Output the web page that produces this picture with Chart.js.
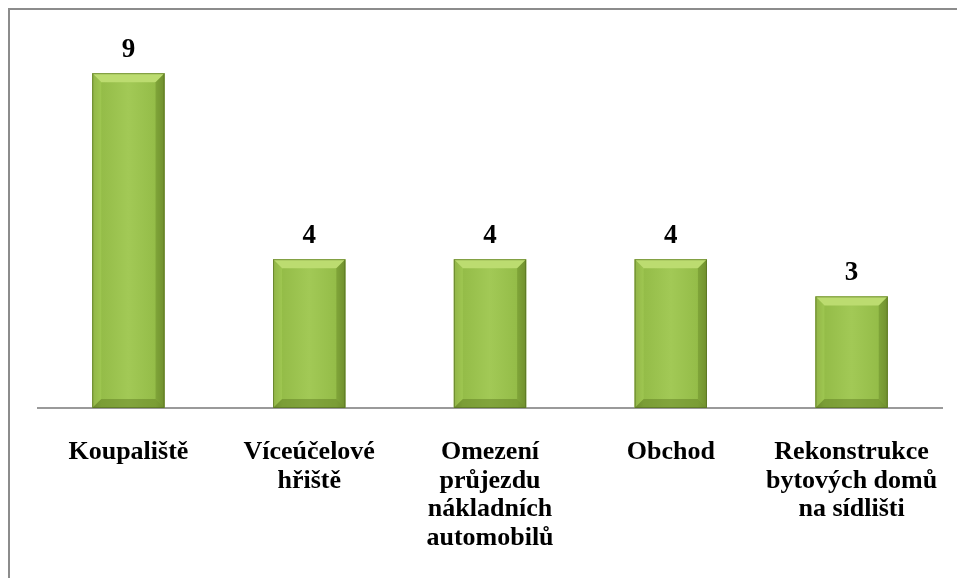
<!DOCTYPE html>
<html>
<head>
<meta charset="utf-8">
<script src="https://cdn.jsdelivr.net/npm/chart.js@4.4.1/dist/chart.umd.min.js"></script>
<style>
	body { margin: 0; background: #fff; }
	#wrap { position: absolute; left: 0; top: 0; width: 957px; height: 578px; overflow: hidden; }
	#frame { position: absolute; left: 8px; top: 8px; width: 1200px; height: 1200px; border: 2px solid #8c8c8c; }
	#chart_canvas { position: absolute; left: 0; top: 0; }
</style>
</head>
<body>
<div id="wrap">
	<div id="frame"></div>
	<canvas id="chart_canvas" width="957" height="578"></canvas>
</div>
<script>
var categories = [
	["Koupaliště"],
	["Víceúčelové", "hřiště"],
	["Omezení", "průjezdu", "nákladních", "automobilů"],
	["Obchod"],
	["Rekonstrukce", "bytových domů", "na sídlišti"]
];
var counts = [9, 4, 4, 4, 3];

// shaded bevelled bars + value labels on top
var bevelBars = {
	id: 'bevelBars',
	afterDatasetsDraw: function(chart){
		var ctx = chart.ctx;
		var meta = chart.getDatasetMeta(0);
		meta.data.forEach(function(bar, i){
			var l = bar.x - bar.width / 2, r = bar.x + bar.width / 2;
			var t = bar.y, b = bar.base, bv = 9;
			ctx.save();
			var g = ctx.createLinearGradient(l, 0, r, 0);
			g.addColorStop(0, '#7d9c38');
			g.addColorStop(0.12, '#94bc48');
			g.addColorStop(0.5, '#a2c956');
			g.addColorStop(0.88, '#94bc48');
			g.addColorStop(1, '#7d9c38');
			ctx.fillStyle = g;
			ctx.fillRect(l, t, r - l, b - t);
			// top bevel
			ctx.fillStyle = '#bcdc70';
			ctx.beginPath();
			ctx.moveTo(l, t); ctx.lineTo(r, t); ctx.lineTo(r - bv, t + bv); ctx.lineTo(l + bv, t + bv); ctx.closePath();
			ctx.fill();
			// left bevel
			ctx.fillStyle = 'rgba(170,210,90,0.45)';
			ctx.beginPath();
			ctx.moveTo(l, t); ctx.lineTo(l + bv, t + bv); ctx.lineTo(l + bv, b - bv); ctx.lineTo(l, b); ctx.closePath();
			ctx.fill();
			// right bevel
			ctx.fillStyle = 'rgba(90,120,30,0.35)';
			ctx.beginPath();
			ctx.moveTo(r, t); ctx.lineTo(r - bv, t + bv); ctx.lineTo(r - bv, b - bv); ctx.lineTo(r, b); ctx.closePath();
			ctx.fill();
			// bottom bevel
			ctx.fillStyle = 'rgba(90,120,30,0.45)';
			ctx.beginPath();
			ctx.moveTo(l, b); ctx.lineTo(l + bv, b - bv); ctx.lineTo(r - bv, b - bv); ctx.lineTo(r, b); ctx.closePath();
			ctx.fill();
			ctx.strokeStyle = 'rgba(80,105,30,0.6)';
			ctx.lineWidth = 1;
			ctx.strokeRect(l + 0.5, t + 0.5, r - l - 1, b - t - 1);

			ctx.fillStyle = '#000';
			ctx.font = 'bold 27px "Liberation Serif"';
			ctx.textAlign = 'center';
			ctx.textBaseline = 'alphabetic';
			ctx.fillText(counts[i], bar.x, t - 16);
			ctx.restore();
		});
	}
};

var chart = new Chart(document.getElementById("chart_canvas"), {
	type: 'bar',
	data: {
		labels: categories,
		datasets: [
			{
				label: "Počet",
				backgroundColor: "#9cc44e",
				data: counts,
				barPercentage: 0.8,
				categoryPercentage: 0.5
			}
		]
	},
	options: {
		responsive: false,
		animation: false,
		layout: { padding: { left: 38, right: 15, top: 36, bottom: 0 } },
		plugins: { legend: { display: false }, tooltip: { enabled: false } },
		scales: {
			x: {
				grid: { display: false, drawTicks: false },
				border: { display: true, color: '#9a9a9a', width: 2 },
				ticks: {
					color: '#000',
					font: { family: '"Liberation Serif"', weight: 'bold', size: 26, lineHeight: 1.1 },
					padding: 30,
					maxRotation: 0,
					autoSkip: false
				},
				afterFit: function(scale){
					scale.height = 170;
					scale.paddingLeft = 0;
					scale.paddingRight = 0;
				}
			},
			y: {
				display: false,
				min: 0,
				max: 10
			}
		}
	},
	plugins: [bevelBars]
});
</script>
</body>
</html>
